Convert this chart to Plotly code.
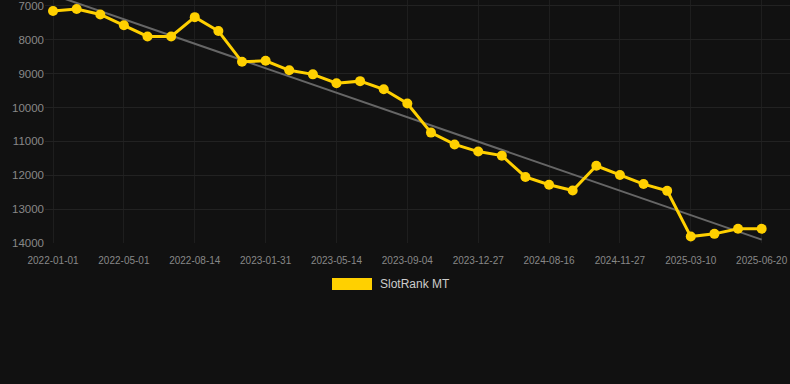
import plotly.graph_objects as go

# Data
rank_values = [7150, 7090, 7250, 7570, 7900, 7900, 7330, 7740, 8650, 8620,
               8900, 9020, 9280, 9220, 9460, 9880, 10740, 11090, 11300, 11420,
               12050, 12280, 12450, 11720, 11990, 12260, 12460, 13810, 13730, 13580,
               13580]
point_index = list(range(len(rank_values)))
tick_positions = [0, 3, 6, 9, 12, 15, 18, 21, 24, 27, 30]
tick_labels = ["2022-01-01", "2022-05-01", "2022-08-14", "2023-01-31", "2023-05-14",
               "2023-09-04", "2023-12-27", "2024-08-16", "2024-11-27", "2025-03-10",
               "2025-06-20"]
y_ticks = [7000, 8000, 9000, 10000, 11000, 12000, 13000, 14000]
trend_x = [0, 30]
trend_values = [6670, 13900]
series_name = "SlotRank MT"

GOLD = "#FFD000"
BG = "#111111"

fig = go.Figure()
fig.add_trace(go.Scatter(
    x=trend_x, y=trend_values, mode="lines",
    line=dict(color="#666666", width=2), showlegend=False, hoverinfo="skip"))
fig.add_trace(go.Scatter(
    x=point_index, y=rank_values, mode="lines+markers", name=series_name,
    line=dict(color=GOLD, width=3), marker=dict(color=GOLD, size=10),
    showlegend=False))

# legend drawn as a shape + text
fig.add_shape(type="rect", xref="paper", yref="paper",
              x0=(332 - 45) / 745, x1=(372 - 45) / 745,
              y0=(243 - 290) / 243, y1=(243 - 278) / 243,
              fillcolor=GOLD, line=dict(width=0))
fig.add_annotation(text=series_name, xref="paper", yref="paper",
                   x=(378 - 45) / 745, y=(243 - 284) / 243,
                   xanchor="left", yanchor="middle", showarrow=False,
                   font=dict(family="Liberation Sans, Arial", size=12, color="#cccccc"))

fig.update_layout(
    width=790, height=384,
    margin=dict(l=45, r=0, t=0, b=141),
    paper_bgcolor=BG, plot_bgcolor=BG,
    font=dict(family="Liberation Sans, Arial", color="#888888"),
    xaxis=dict(range=[-0.34, 31.2], tickvals=tick_positions, ticktext=tick_labels,
               showgrid=True, gridcolor="#1e1e1e", zeroline=False,
               tickfont=dict(size=10, color="#888888"), showline=False,
               ticks="outside", ticklen=8, tickcolor="rgba(0,0,0,0)",
               ticklabeloverflow="allow"),
    yaxis=dict(range=[14000, 6824], tickvals=y_ticks, tickformat="d",
               showgrid=True, gridcolor="#222222", zeroline=False,
               tickfont=dict(size=11.5, color="#888888"), ticks="",
               ticklabeloverflow="allow"),
    showlegend=False,
)

fig.write_html("out.html", config={"displayModeBar": False},
               post_script="document.body.style.margin='0';document.body.style.background='#111111';")
